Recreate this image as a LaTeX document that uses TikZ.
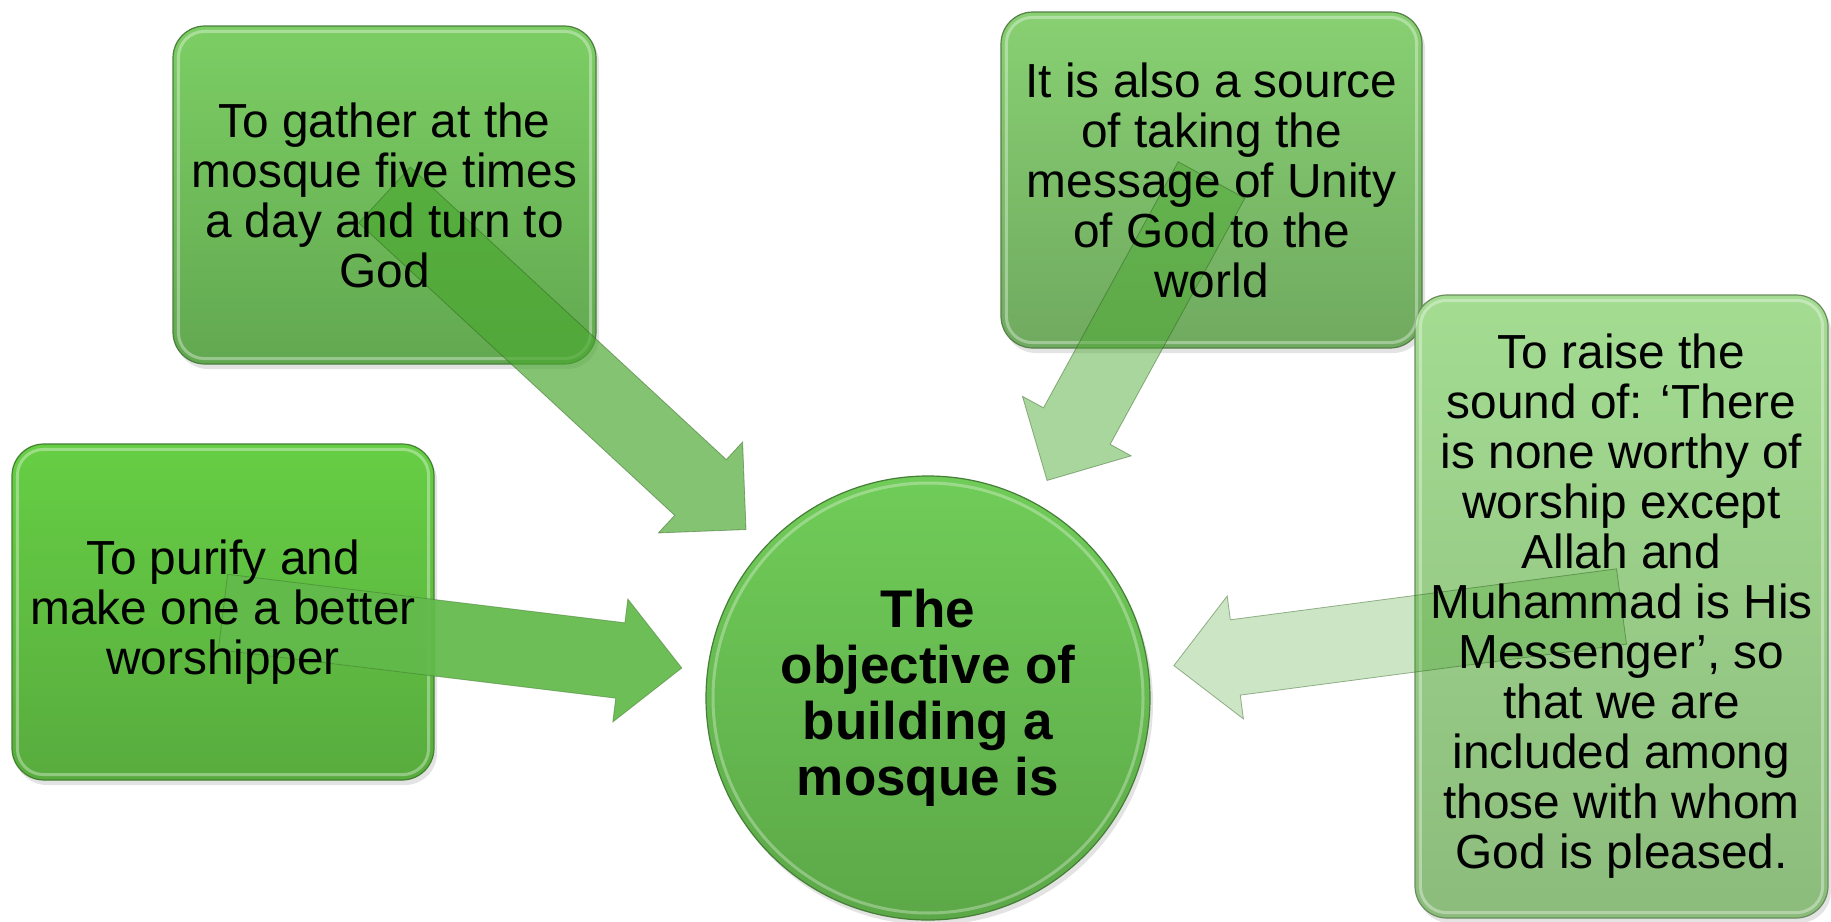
\documentclass[tikz,border=0pt]{standalone}
\usepackage{fontspec}
\setmainfont{Liberation Sans}
\usetikzlibrary{calc,shadows}
\definecolor{arrowgreen}{RGB}{74,168,48}
\definecolor{arrowtwo}{RGB}{98,186,74}
\definecolor{b1top}{RGB}{124,206,100}\definecolor{b1bot}{RGB}{98,168,80}
\definecolor{b2top}{RGB}{102,206,68}\definecolor{b2bot}{RGB}{88,172,62}
\definecolor{b3top}{RGB}{136,208,114}\definecolor{b3bot}{RGB}{112,170,96}
\definecolor{b4top}{RGB}{164,220,146}\definecolor{b4bot}{RGB}{140,188,124}
\definecolor{ctop}{RGB}{112,204,88}\definecolor{cbot}{RGB}{92,168,72}
\newcommand{\blkarrow}[3]{%
  \coordinate (S) at (#1.center);
  \coordinate (T) at ($(#2.center)!248pt!(#1.center)$);
  \coordinate (H) at ($(T)!62pt!(S)$);
  \filldraw[#3] ($(S)!38pt!90:(T)$) -- ($(H)!38pt!90:(T)$) -- ($(H)!62pt!90:(T)$) -- (T)
    -- ($(H)!62pt!-90:(T)$) -- ($(H)!38pt!-90:(T)$) -- ($(S)!38pt!-90:(T)$) -- cycle;
}
\begin{document}
\begin{tikzpicture}[x=1pt,y=-1pt,
  panel/.style={rectangle, rounded corners=32pt, inner sep=0pt, draw=#1bot!75!black, line width=1.2pt,
    top color=#1top, bottom color=#1bot,
    drop shadow={shadow xshift=3pt, shadow yshift=-5pt, opacity=0.22}},
  disc/.style={circle, inner sep=0pt, minimum size=444pt, draw=cbot!75!black, line width=1.2pt,
    top color=ctop, bottom color=cbot,
    drop shadow={shadow xshift=3pt, shadow yshift=-5pt, opacity=0.22}},
  shine/.style={draw=white, opacity=0.35, line width=3pt, rounded corners=26pt},
  txt/.style={align=center, text=black, inner sep=0pt, font=\fontsize{47.8}{50}\selectfont},
  ctxt/.style={align=center, text=black, inner sep=0pt, font=\fontsize{53}{56}\selectfont\bfseries},
  arr/.style={fill=arrowgreen, draw=arrowgreen!55!black, line width=0.8pt, fill opacity=#1, draw opacity=0.45},
  arrsolid/.style={fill=arrowtwo, draw=arrowtwo!60!black, line width=0.8pt, fill opacity=0.93, draw opacity=0.45}
]
\fill[white] (0,0) rectangle (1831,921);
\useasboundingbox (0,0) rectangle (1831,921);

% shapes
\node[panel=b1, minimum width=423pt, minimum height=338pt] (b1) at (384.5,195) {};
\node[panel=b2, minimum width=422pt, minimum height=336pt] (b2) at (223,612) {};
\node[panel=b3, minimum width=421pt, minimum height=336pt] (b3) at (1211.5,180) {};
\node[panel=b4, minimum width=413pt, minimum height=623pt] (b4) at (1621.5,606.5) {};
\node[disc] (c) at (928,698) {};

\foreach \b in {b1,b2,b3,b4}{
  \draw[shine] ($(\b.north west)+(6,6)$) rectangle ($(\b.south east)+(-6,-6)$);
}
\draw[draw=white, opacity=0.3, line width=3pt] (c.center) circle (215);

% arrows
\blkarrow{b2}{c}{arrsolid}
\blkarrow{b1}{c}{arr=0.68}
\blkarrow{b3}{c}{arr=0.47}
\blkarrow{b4}{c}{arr=0.28}

% texts
\node[txt] (t1) at (b1.center) {To gather at the\\mosque five times\\a day and turn to\\God};
\node[txt] (t2) at (b2.center) {To purify and\\make one a better\\worshipper};
\node[txt] (t3) at (b3.center) {It is also a source\\of taking the\\message of Unity\\of God to the\\world};
\node[txt] (t4) at (b4.center) {To raise the\\sound of: ‘There\\is none worthy of\\worship except\\Allah and\\Muhammad is His\\Messenger’, so\\that we are\\included among\\those with whom\\God is pleased.};
\node[ctxt] (tc) at (c.center) {The\\objective of\\building a\\mosque is};
\end{tikzpicture}
\end{document}
